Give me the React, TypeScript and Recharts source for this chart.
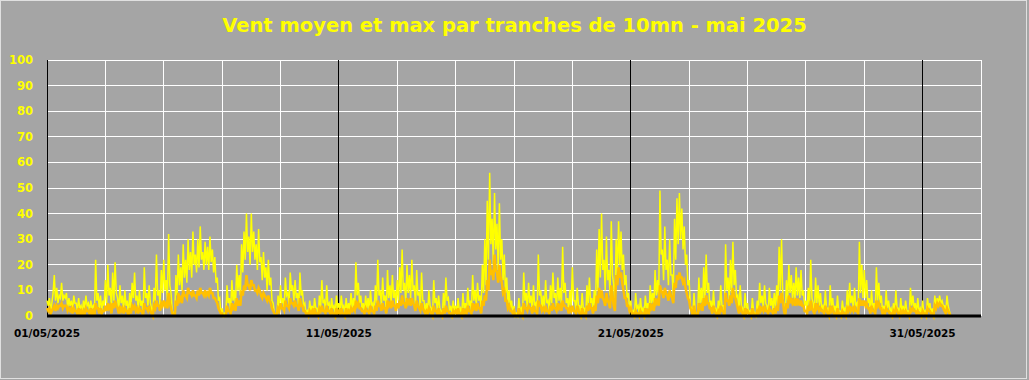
import { LineChart, Line, XAxis, YAxis, ReferenceLine, CartesianGrid } from "recharts";

// Vent max / moyen (km/h), one value per hour - mai 2025
// 24 values per day
const maxDays01to10 = [
  6, 4, 7, 2, 5, 9, 16, 6, 11, 5, 8, 7, 13, 6, 8, 7, 9, 3, 7, 4, 6, 2, 8, 5, // 01
  5, 2, 7, 3, 4, 1, 6, 3, 8, 4, 5, 2, 6, 3, 4, 1, 22, 6, 9, 3, 8, 2, 6, 4, // 02
  14, 5, 20, 8, 11, 3, 17, 6, 21, 9, 7, 2, 12, 5, 8, 2, 10, 4, 6, 0, 9, 3, 13, 7, // 03
  17, 6, 8, 3, 10, 4, 6, 1, 19, 7, 9, 4, 12, 5, 3, 0, 11, 6, 24, 8, 10, 4, 18, 9, // 04
  22, 10, 14, 6, 32, 12, 9, 2, 1, 0, 16, 8, 24, 12, 19, 10, 28, 15, 22, 13, 30, 18, 25, 15, // 05
  33, 20, 24, 17, 30, 19, 35, 22, 25, 18, 29, 20, 27, 18, 31, 21, 26, 17, 23, 13, 15, 6, 7, 1, // 06
  3, 0, 1, 0, 12, 5, 7, 2, 14, 6, 10, 4, 20, 10, 16, 8, 28, 17, 33, 22, 40, 25, 31, 20, // 07
  40, 25, 33, 22, 28, 18, 34, 21, 23, 14, 25, 15, 19, 10, 22, 12, 15, 6, 5, 1, 0, 0, 8, 3, // 08
  12, 5, 7, 2, 15, 8, 9, 4, 17, 10, 12, 6, 14, 7, 9, 3, 17, 8, 10, 4, 5, 1, 2, 0, // 09
  6, 2, 4, 1, 7, 3, 3, 0, 8, 3, 14, 5, 6, 2, 12, 4, 5, 1, 7, 3, 4, 1, 8, 3, // 10
];
const maxDays11to20 = [
  5, 2, 8, 3, 4, 1, 7, 2, 5, 2, 9, 3, 7, 3, 21, 8, 13, 5, 8, 3, 5, 1, 8, 3, // 11
  7, 2, 10, 4, 5, 1, 12, 5, 22, 8, 10, 4, 15, 6, 8, 2, 18, 7, 12, 5, 16, 7, 10, 4, // 12
  14, 6, 19, 9, 26, 10, 13, 5, 20, 9, 16, 7, 22, 10, 12, 4, 18, 8, 9, 3, 17, 6, 6, 2, // 13
  5, 1, 10, 4, 3, 0, 14, 5, 7, 2, 8, 3, 2, 0, 9, 3, 15, 6, 7, 2, 4, 1, 6, 2, // 14
  4, 1, 7, 2, 3, 0, 9, 3, 5, 2, 11, 4, 6, 2, 16, 6, 10, 4, 13, 6, 8, 3, 20, 9, // 15
  30, 12, 45, 22, 56, 28, 38, 20, 48, 26, 36, 18, 44, 22, 30, 14, 24, 9, 15, 5, 10, 3, 6, 1, // 16
  4, 0, 1, 0, 7, 2, 3, 0, 17, 6, 9, 3, 13, 5, 8, 2, 12, 4, 5, 1, 24, 8, 10, 3, // 17
  8, 3, 14, 5, 6, 2, 12, 5, 17, 7, 9, 3, 15, 6, 11, 4, 27, 9, 13, 5, 7, 2, 10, 4, // 18
  19, 6, 6, 2, 11, 4, 4, 0, 9, 3, 3, 0, 12, 4, 15, 5, 7, 2, 10, 3, 26, 10, 34, 15, // 19
  40, 18, 22, 10, 31, 14, 18, 8, 37, 16, 12, 5, 30, 16, 37, 20, 33, 18, 24, 12, 16, 7, 9, 3, // 20
];
const maxDays21to31 = [
  6, 1, 2, 0, 9, 3, 4, 1, 7, 2, 3, 0, 8, 3, 5, 1, 12, 5, 9, 4, 18, 8, 14, 7, // 21
  49, 24, 26, 14, 35, 18, 22, 12, 30, 16, 16, 8, 38, 22, 46, 28, 48, 30, 42, 26, 35, 20, 24, 12, // 22
  14, 4, 3, 0, 9, 2, 0, 0, 15, 5, 11, 3, 19, 7, 24, 9, 13, 4, 6, 1, 10, 3, 3, 0, // 23
  6, 2, 12, 4, 4, 0, 28, 10, 15, 6, 22, 9, 29, 12, 18, 7, 8, 2, 12, 4, 3, 0, 9, 3, // 24
  5, 1, 2, 0, 7, 2, 1, 0, 6, 2, 13, 5, 8, 3, 12, 5, 4, 1, 11, 4, 7, 2, 9, 3, // 25
  12, 4, 27, 10, 30, 8, 4, 0, 14, 6, 20, 9, 16, 7, 13, 6, 19, 8, 15, 7, 18, 8, 10, 4, // 26
  6, 2, 11, 4, 22, 7, 5, 1, 15, 5, 12, 4, 9, 3, 4, 1, 10, 3, 3, 0, 12, 4, 7, 2, // 27
  4, 1, 8, 2, 2, 0, 6, 2, 3, 0, 10, 3, 13, 5, 8, 3, 11, 4, 5, 1, 29, 9, 20, 7, // 28
  18, 7, 14, 5, 7, 2, 10, 3, 5, 1, 19, 6, 13, 5, 8, 2, 4, 1, 10, 3, 6, 2, 3, 0, // 29
  5, 1, 10, 3, 3, 0, 7, 2, 4, 1, 6, 2, 2, 0, 11, 4, 8, 3, 5, 1, 7, 2, 3, 0, // 30
  6, 1, 2, 0, 7, 3, 5, 1, 3, 0, 8, 4, 7, 5, 8, 5, 6, 4, 4, 1, 8, 4, 2, 0, // 31
];

const meanDays01to10 = [
  3, 2, 3, 1, 2, 3, 4, 2, 4, 3, 4, 4, 5, 3, 4, 4, 4, 2, 3, 2, 3, 1, 3, 2,
  2, 1, 3, 1, 2, 0, 2, 1, 3, 2, 2, 1, 3, 1, 2, 0, 5, 3, 3, 1, 3, 1, 2, 2,
  4, 2, 5, 3, 4, 1, 5, 3, 6, 4, 3, 1, 4, 2, 3, 1, 3, 2, 2, 0, 3, 1, 4, 3,
  4, 2, 3, 1, 3, 2, 2, 0, 5, 3, 3, 2, 4, 2, 1, 0, 4, 3, 6, 4, 4, 2, 5, 4,
  6, 4, 5, 3, 9, 5, 3, 1, 0, 0, 6, 4, 9, 6, 7, 5, 10, 8, 8, 7, 11, 9, 9, 8,
  10, 8, 8, 7, 10, 8, 11, 9, 9, 8, 10, 8, 9, 8, 11, 9, 9, 7, 7, 6, 5, 3, 2, 1,
  1, 0, 0, 0, 4, 2, 2, 1, 5, 3, 4, 2, 7, 4, 6, 4, 10, 8, 12, 10, 16, 12, 12, 10,
  14, 12, 12, 10, 10, 9, 11, 10, 8, 7, 9, 8, 7, 6, 8, 6, 5, 3, 2, 1, 0, 0, 3, 2,
  5, 3, 3, 2, 6, 4, 4, 3, 7, 5, 5, 4, 6, 4, 4, 2, 7, 4, 4, 2, 2, 1, 1, 0,
  2, 1, 2, 0, 3, 1, 1, 0, 3, 2, 4, 2, 2, 1, 4, 2, 2, 1, 3, 1, 1, 0, 3, 1,
];
const meanDays11to20 = [
  2, 1, 3, 1, 1, 0, 3, 1, 2, 1, 3, 2, 3, 2, 6, 4, 5, 3, 3, 2, 2, 1, 3, 2,
  2, 1, 4, 2, 2, 1, 4, 2, 6, 4, 4, 2, 5, 3, 3, 1, 6, 4, 5, 3, 6, 4, 4, 2,
  5, 3, 6, 4, 8, 5, 5, 3, 7, 5, 6, 4, 7, 5, 4, 2, 6, 4, 3, 2, 5, 3, 2, 1,
  2, 1, 3, 2, 1, 0, 4, 2, 2, 1, 3, 1, 1, 0, 3, 1, 4, 2, 2, 1, 1, 0, 2, 1,
  2, 1, 3, 1, 1, 0, 3, 1, 2, 1, 4, 2, 2, 1, 5, 3, 4, 2, 5, 3, 3, 1, 6, 4,
  8, 6, 14, 10, 22, 16, 18, 14, 24, 18, 17, 13, 20, 15, 13, 9, 10, 6, 6, 3, 4, 2, 2, 1,
  2, 0, 0, 0, 3, 1, 1, 0, 5, 3, 3, 2, 4, 3, 3, 1, 4, 2, 2, 1, 6, 4, 4, 2,
  3, 2, 4, 2, 2, 1, 4, 2, 5, 3, 3, 2, 5, 3, 4, 2, 6, 4, 4, 3, 3, 1, 3, 2,
  4, 2, 2, 1, 4, 2, 1, 0, 3, 1, 1, 0, 4, 2, 5, 3, 3, 1, 4, 2, 8, 5, 11, 7,
  10, 7, 6, 4, 9, 6, 5, 3, 12, 8, 4, 2, 16, 12, 19, 15, 17, 13, 10, 7, 7, 4, 4, 2,
];
const meanDays21to31 = [
  3, 1, 1, 0, 2, 1, 1, 0, 2, 1, 1, 0, 3, 1, 2, 1, 5, 3, 4, 2, 7, 5, 6, 4,
  12, 10, 9, 7, 11, 9, 8, 6, 10, 8, 7, 5, 13, 11, 16, 14, 17, 15, 15, 13, 14, 11, 9, 7,
  6, 3, 2, 0, 4, 1, 0, 0, 5, 3, 4, 2, 7, 4, 8, 5, 5, 3, 3, 1, 4, 2, 1, 0,
  2, 1, 4, 2, 2, 0, 9, 6, 6, 4, 8, 5, 11, 8, 7, 5, 3, 1, 4, 2, 1, 0, 3, 1,
  2, 1, 1, 0, 3, 1, 0, 0, 2, 1, 4, 2, 3, 2, 4, 2, 2, 1, 3, 2, 2, 1, 3, 1,
  4, 2, 8, 5, 9, 6, 2, 0, 5, 3, 8, 5, 7, 5, 6, 4, 7, 5, 6, 4, 6, 4, 4, 2,
  2, 1, 4, 2, 6, 3, 2, 1, 5, 3, 4, 2, 3, 2, 2, 1, 4, 2, 1, 0, 4, 2, 3, 1,
  1, 0, 3, 1, 1, 0, 2, 1, 1, 0, 3, 2, 4, 2, 3, 2, 4, 2, 2, 1, 7, 4, 6, 4,
  6, 4, 5, 3, 3, 1, 4, 2, 2, 1, 6, 4, 5, 3, 3, 1, 2, 1, 3, 2, 2, 1, 1, 0,
  2, 1, 3, 2, 1, 0, 2, 1, 2, 1, 2, 1, 1, 0, 3, 2, 3, 2, 2, 1, 2, 1, 1, 0,
  2, 1, 1, 0, 3, 2, 2, 1, 1, 0, 4, 3, 5, 4, 5, 4, 4, 3, 2, 1, 3, 2, 1, 0,
];

const gridDays = [0, 2, 4, 6, 8, 10, 12, 14, 16, 18, 20, 22, 24, 26, 28, 30, 32];
const labelDays = [0, 10, 20, 30];
const dateLabels = ["01/05/2025", "11/05/2025", "21/05/2025", "31/05/2025"];
const speedTicks = [0, 10, 20, 30, 40, 50, 60, 70, 80, 90, 100];

const PER_DAY = 24;
const maxAll = [...maxDays01to10, ...maxDays11to20, ...maxDays21to31];
const meanAll = [...meanDays01to10, ...meanDays11to20, ...meanDays21to31];
const data = maxAll.map((v, i) => ({ t: i / PER_DAY, max: v, mean: meanAll[i] }));

const FONT = "'DejaVu Sans', Verdana, sans-serif";

function dayLabel(d: number) {
  const k = labelDays.indexOf(d);
  return k >= 0 ? dateLabels[k] : "";
}

export default function App() {
  return (
    <div style={{ position: "absolute", left: 0, top: 0, width: 1029, height: 380, background: "#a5a5a5" }}>
      <LineChart width={1029} height={380} data={data} margin={{ top: 60, right: 48, bottom: 34, left: 0 }}>
        <CartesianGrid stroke="#ffffff" strokeWidth={1} shapeRendering="crispEdges" />
        <XAxis
          dataKey="t"
          type="number"
          domain={[0, 32]}
          ticks={gridDays}
          interval={0}
          tickFormatter={dayLabel}
          tickLine={false}
          tickSize={12}
          tickMargin={2}
          axisLine={false}
          tick={{ fill: "#000", fontFamily: FONT, fontWeight: "bold", fontSize: 10.5 }}
        />
        <YAxis
          type="number"
          domain={[0, 100]}
          ticks={speedTicks}
          interval={0}
          width={47}
          tickLine={false}
          tickSize={12}
          tickMargin={2}
          axisLine={false}
          tick={{ fill: "#ffff00", fontFamily: FONT, fontWeight: "bold", fontSize: 11.5 }}
        />
        {/* light grid every 2 days / 10 km/h, drawn crisp so it stays pure white */}
        {gridDays.filter((d) => d % 10 !== 0).map((d) => (
          <ReferenceLine key={"v" + d} x={d} stroke="#ffffff" strokeWidth={1} shapeRendering="crispEdges" />
        ))}
        {speedTicks.slice(1).map((v) => (
          <ReferenceLine key={"h" + v} y={v} stroke="#ffffff" strokeWidth={1} shapeRendering="crispEdges" />
        ))}
        {/* black separators every 10 days */}
        {labelDays.slice(1).map((d) => (
          <ReferenceLine key={"b" + d} x={d} stroke="#000" strokeWidth={1} shapeRendering="crispEdges" />
        ))}
        <ReferenceLine x={0} stroke="#000" strokeWidth={1} shapeRendering="crispEdges" />
        <Line dataKey="max" type="linear" stroke="#ffff00" strokeWidth={1.5} dot={false} isAnimationActive={false} />
        <Line dataKey="mean" type="linear" stroke="#ffc000" strokeWidth={2.5} dot={false} isAnimationActive={false} />
        <ReferenceLine y={0} stroke="#000" strokeWidth={3} />
      </LineChart>
      <div
        style={{
          position: "absolute", left: 0, top: 0, width: 1027, height: 379,
          border: "1px solid #e0e0e0", boxSizing: "border-box", pointerEvents: "none",
        }}
      />
      <div
        style={{
          position: "absolute", left: 0, top: 14, width: 1029, textAlign: "center",
          fontFamily: FONT, fontWeight: "bold", fontSize: 19.5, lineHeight: "24px", color: "#ffff00",
        }}
      >
        Vent moyen et max par tranches de 10mn - mai 2025
      </div>
    </div>
  );
}
